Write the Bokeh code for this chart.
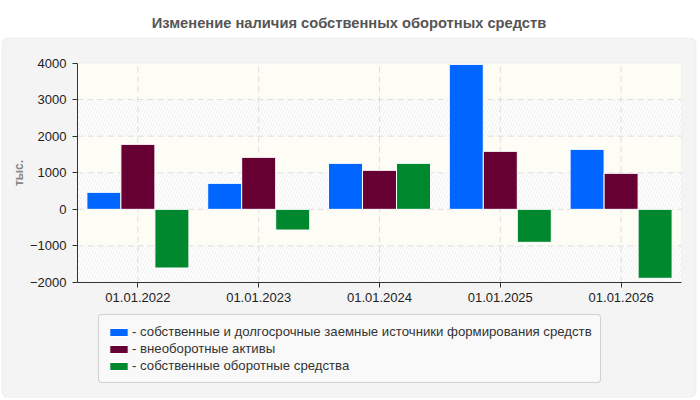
from bokeh.plotting import figure
from bokeh.models import (ColumnDataSource, Range1d, FixedTicker, Legend,
                          LegendItem, BoxAnnotation, Title)
from bokeh.transform import dodge
from bokeh.embed import file_html
from bokeh.resources import INLINE

# --- data (thousands) ---
dates = ["01.01.2022", "01.01.2023", "01.01.2024", "01.01.2025", "01.01.2026"]
own_and_longterm = [464, 710, 1257, 3962, 1639]
noncurrent_assets = [1776, 1421, 1066, 1585, 984]
own_working_capital = [-1604, -566, 1257, -902, -1885]
y_ticks = [-2000, -1000, 0, 1000, 2000, 3000, 4000]
series_names = [
    "собственные и долгосрочные заемные источники формирования средств",
    "внеоборотные активы",
    "собственные оборотные средства",
]
colors = ["#0066ff", "#660033", "#00882f"]
title_text = "Изменение наличия собственных оборотных средств"
y_label = "тыс."

FONT = "Liberation Sans"

# --- layout (pixels) ---
W, H = 700, 400
panel_px = (1, 696, 37, 397)        # left, right, top, bottom of the gray card
area_px = (77, 681, 62.5, 282)      # left, right, top, bottom of the plot area

n = len(dates)
ymin, ymax = y_ticks[0], y_ticks[-1]
ux = (area_px[1] - area_px[0]) / n                  # px per category
uy = (area_px[3] - area_px[2]) / (ymax - ymin)      # px per unit
x_range = Range1d(-(area_px[0] - panel_px[0]) / ux,
                  n + (panel_px[1] - area_px[1]) / ux)
y_range = Range1d(ymin - (panel_px[3] - area_px[3]) / uy,
                  ymax + (area_px[2] - panel_px[2]) / uy)

centers = [i + 0.5 for i in range(n)]
src = ColumnDataSource(dict(xc=centers, a=own_and_longterm,
                            b=noncurrent_assets, c=own_working_capital))

p = figure(width=W, height=H, x_range=x_range, y_range=y_range,
           output_backend="svg", toolbar_location=None,
           min_border_left=panel_px[0], min_border_right=W - panel_px[1],
           min_border_top=panel_px[2], min_border_bottom=H - panel_px[3])
p.title = None
p.add_layout(Title(text=title_text, align="center", standoff=13,
                   text_font=FONT, text_font_size="14.7px",
                   text_font_style="bold", text_color="#555555"), "above")
p.border_fill_color = "white"
p.background_fill_color = "white"
p.outline_line_color = None

# gray rounded card
card = BoxAnnotation(fill_color="#f4f4f4", fill_alpha=1,
                     line_color="#dcdcdc", line_width=1.5,
                     border_radius=8, level="underlay")
# plot area with alternating hatched bands
area = BoxAnnotation(left=0, right=n, bottom=ymin, top=ymax,
                     fill_color="#fdfdf6", fill_alpha=1, line_color=None,
                     level="underlay")
bands = []
for i in range(0, len(y_ticks) - 1, 2):
    bands.append(BoxAnnotation(left=0, right=n,
                               bottom=y_ticks[i], top=y_ticks[i + 1],
                               fill_color="white", fill_alpha=1,
                               hatch_pattern="/", hatch_color="#eeeeee",
                               hatch_scale=6, hatch_weight=1,
                               line_color=None, level="underlay"))
border = BoxAnnotation(left=0, right=n, bottom=ymin, top=ymax,
                       fill_alpha=0, line_color="#dddddd", line_width=1,
                       level="underlay")
p.xgrid.visible = False
p.ygrid.visible = False
p.center = [card, area] + bands + [border] + list(p.center)

# dashed grid lines inside the plot area
p.segment(x0=0, x1=n, y0=y_ticks[1:-1], y1=y_ticks[1:-1],
          line_color="#dddddd", line_dash="6 4", line_width=1)
p.segment(x0=centers, x1=centers, y0=ymin, y1=ymax,
          line_color="#dddddd", line_dash="6 4", line_width=1)

# axes pinned to the plot area's left and bottom edges
p.yaxis.fixed_location = 0
p.yaxis.bounds = (ymin, ymax)
p.yaxis.ticker = FixedTicker(ticks=y_ticks)
p.yaxis.axis_label = y_label
p.yaxis.axis_label_text_font = FONT
p.yaxis.axis_label_text_font_size = "12px"
p.yaxis.axis_label_text_font_style = "bold"
p.yaxis.axis_label_text_color = "#888888"
p.yaxis.axis_label_standoff = 1
p.xaxis.fixed_location = ymin
p.xaxis.bounds = (0, n)
p.xaxis.ticker = FixedTicker(ticks=centers)
p.xaxis.major_label_overrides = {c: d for c, d in zip(centers, dates)}
for ax in (p.xaxis, p.yaxis):
    ax.axis_line_color = "#333333"
    ax.major_tick_line_color = "#333333"
    ax.major_tick_out = 5
    ax.major_tick_in = 0
    ax.minor_tick_line_color = None
    ax.major_label_text_font = FONT
    ax.major_label_text_font_size = "13px"
    ax.major_label_text_color = "#222222"
p.yaxis.major_label_standoff = 6
p.xaxis.major_label_standoff = 5

# bars
w = 0.2815
r1 = p.vbar(x=dodge("xc", -w), top="a", width=w, source=src,
            fill_color=colors[0], line_color="white", line_width=1)
r2 = p.vbar(x=dodge("xc", 0), top="b", width=w, source=src,
            fill_color=colors[1], line_color="white", line_width=1)
r3 = p.vbar(x=dodge("xc", w), top="c", width=w, source=src,
            fill_color=colors[2], line_color="white", line_width=1)

legend = Legend(items=[LegendItem(label="- " + s, renderers=[r])
                       for s, r in zip(series_names, (r1, r2, r3))],
                location=(97, 14), orientation="vertical",
                label_text_font=FONT, label_text_font_size="13.2px",
                label_text_color="#333333", label_height=17,
                glyph_width=23, glyph_height=10, label_standoff=2,
                spacing=0, padding=8, margin=0,
                border_line_color="#aaaaaa", border_line_width=1,
                border_radius=4,
                background_fill_color="#f9f9f9", background_fill_alpha=1)
p.add_layout(legend, "center")

open("out.html", "w").write(file_html(p, INLINE))
